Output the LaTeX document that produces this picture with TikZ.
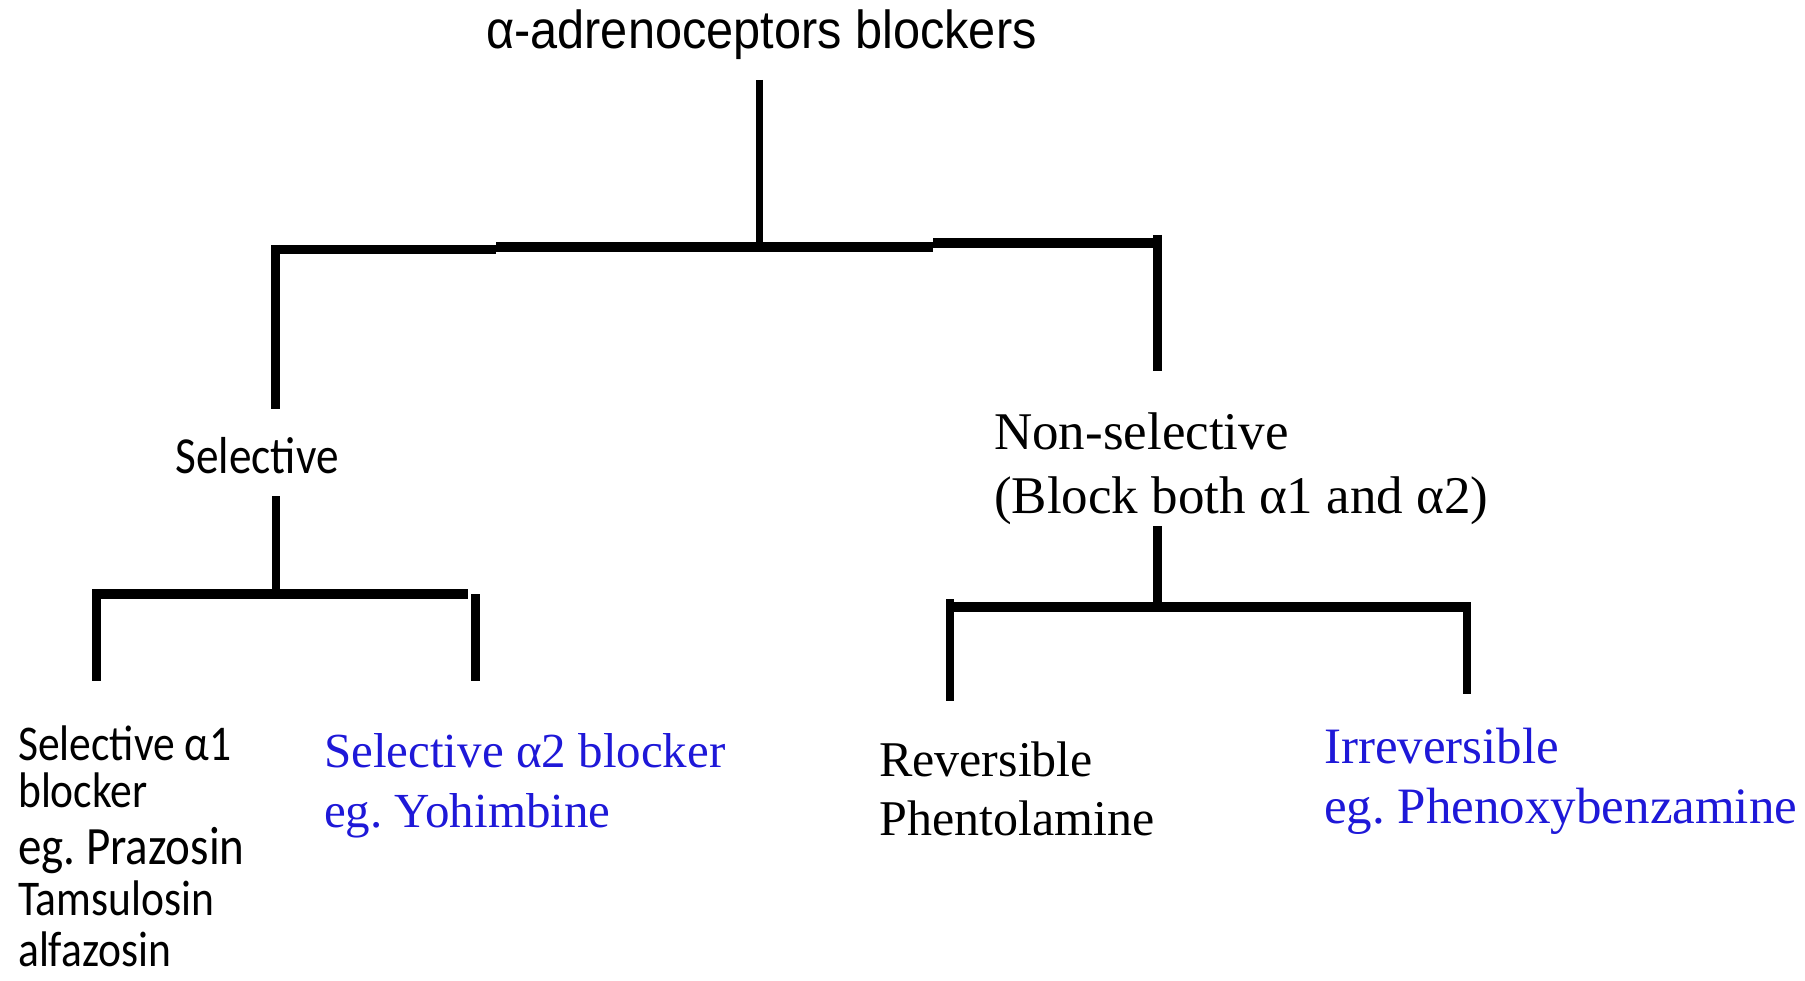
\documentclass[tikz,border=0pt]{standalone}
\usepackage{fontspec}
\setmainfont{Liberation Serif}
\newfontfamily\titlefont[FakeStretch=0.91]{Liberation Sans}
\newfontfamily\calfont[FakeStretch=0.87]{Carlito}
\definecolor{dblue}{RGB}{30,24,216}
\begin{document}
\begin{tikzpicture}[x=1pt,y=1pt,
  bar/.style={line width=9.5pt},
  stem/.style={line width=8.5pt},
  lbl/.style={inner sep=0pt, align=left, anchor=base west}]
\useasboundingbox (0,0) rectangle (1805,-981);

% ---- text nodes (multi-line nodes are placed by the baseline of their last line) ----
\node[anchor=base, inner sep=0pt, font={\titlefont\fontsize{53.5}{60}\selectfont}] (title) at (761.5,-49) {α-adrenoceptors blockers};
\node[anchor=base, inner sep=0pt, font={\calfont\fontsize{52}{56}\selectfont}] (sel) at (257,-473) {Selective};
\node[lbl, font={\fontsize{53}{64}\selectfont}] (nonsel) at (994,-513) {Non-selective\\(Block both α1 and α2)};
\node[lbl, font={\calfont\fontsize{50}{47}\selectfont}] (selA1) at (18,-966)
  {Selective α1\\blocker\\[10pt]{\fontsize{54}{47}\selectfont eg.\ Prazosin}\\[4pt]Tamsulosin\\[4pt]alfazosin};
\node[lbl, text=dblue, font={\fontsize{49}{60}\selectfont}] (selA2) at (324,-827) {Selective α2 blocker\\eg.\ Yohimbine};
\node[lbl, font={\fontsize{50}{59}\selectfont}] (rev) at (879,-835) {Reversible\\Phentolamine};
\node[lbl, text=dblue, font={\fontsize{51}{60}\selectfont}] (irr) at (1324,-823) {Irreversible\\eg.\ Phenoxybenzamine};

% ---- junction coordinates ----
\coordinate (t0) at (759,-80);
\coordinate (t1) at (759,-246);
\coordinate (sL0) at (275.5,-245);
\coordinate (sL1) at (275.5,-409);
\coordinate (nR0) at (1157.5,-235);
\coordinate (nR1) at (1157.5,-371);
\coordinate (s0) at (276,-496);
\coordinate (s1) at (276,-590);
\coordinate (n0) at (1157.5,-526);
\coordinate (n1) at (1157.5,-603);

% ---- top tree ----
\draw[line width=7pt] (t0) -- (t1);
\draw[bar] (272,-249.5) -- (496,-249.5);
\draw[bar] (496,-247) -- (933,-247);
\draw[bar] (933,-243) -- (1162,-243);
\draw[stem] (sL0) -- (sL1);
\draw[stem] (nR0) -- (nR1);

% ---- selective branch ----
\draw[stem] (s0) -- (s1);
\draw[bar] (92,-594) -- (468,-594);
\draw[stem] (96.5,-589) -- (96.5,-681);
\draw[stem] (475.5,-594) -- (475.5,-681);

% ---- non-selective branch ----
\draw[stem] (n0) -- (n1);
\draw[bar] (946,-607) -- (1471,-607);
\draw[stem] (950,-599) -- (950,-701);
\draw[stem] (1467,-602) -- (1467,-694);
\end{tikzpicture}
\end{document}
